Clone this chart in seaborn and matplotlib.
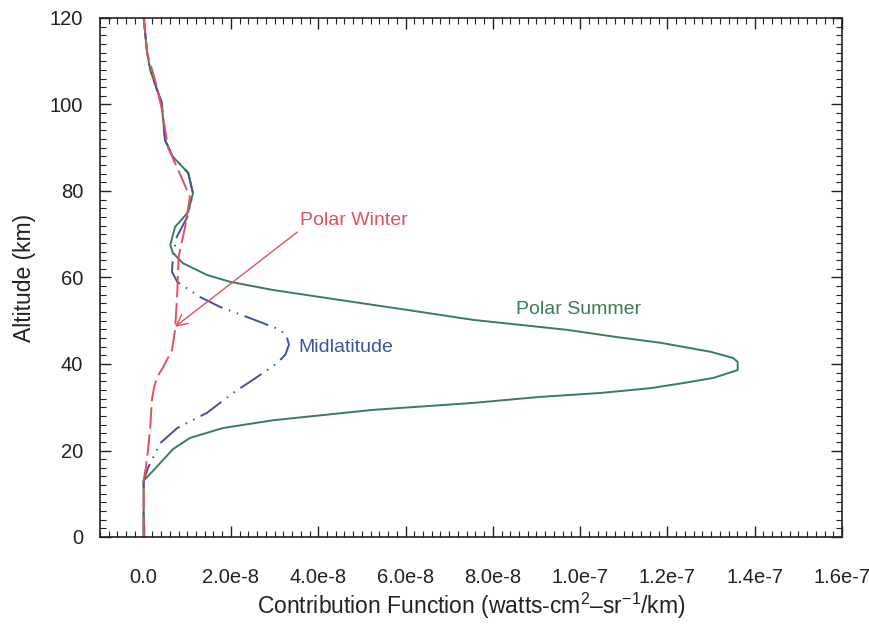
import matplotlib
matplotlib.use("Agg")
import matplotlib.pyplot as plt
import seaborn as sns
import pandas as pd
from matplotlib.ticker import MultipleLocator, FixedLocator, FixedFormatter

# ---- data ----
summer_alt = [0, 13, 16, 20.3, 22.9, 25.2, 27, 29.4, 31, 32.4, 33.3, 34.4, 35.6, 36.8,
              38.6, 40.5, 41.4, 42.8, 44.9, 46.2, 47.9, 50.2, 52.5, 54.8, 57.1, 59,
              60.6, 63.3, 65.7, 67.5, 71.7, 75.1, 79.5, 84.2, 87.9, 91.8, 97.1, 100.3,
              103.3, 108, 112, 120]
summer_cf = [0, 0, 2.8e-9, 6.7e-9, 1.06e-8, 1.82e-8, 2.97e-8, 5.26e-8, 7.55e-8, 9.09e-8,
             1.047e-7, 1.16e-7, 1.237e-7, 1.306e-7, 1.361e-7, 1.361e-7, 1.35e-7, 1.3e-7,
             1.185e-7, 1.086e-7, 9.7e-8, 7.55e-8, 6.04e-8, 4.5e-8, 2.97e-8, 1.98e-8,
             1.45e-8, 9e-9, 6.7e-9, 6.1e-9, 7.2e-9, 1.02e-8, 1.13e-8, 1.02e-8, 6.7e-9,
             4.9e-9, 4.4e-9, 4.2e-9, 3.1e-9, 1.5e-9, 8e-10, 0]

mid_alt = [0, 13, 16, 21.7, 25.2, 28.7, 33.3, 37, 40.2, 42.2, 44.5, 46.5, 47.9, 50.6,
           53.2, 55.5, 59, 61.3, 65, 69.4, 74, 79.5, 84.2, 87.9, 91.8, 97.1, 100.3,
           103.3, 108, 112, 120]
mid_cf = [0, 0, 1e-9, 3.8e-9, 7.7e-9, 1.45e-8, 2.05e-8, 2.6e-8, 3.06e-8, 3.25e-8,
          3.33e-8, 3.27e-8, 3.13e-8, 2.44e-8, 1.75e-8, 1.29e-8, 7.7e-9, 6.5e-9, 6.7e-9,
          7.6e-9, 1e-8, 1.13e-8, 1.02e-8, 6.7e-9, 4.9e-9, 4.4e-9, 4.2e-9, 3.1e-9, 1.5e-9,
          8e-10, 0]

winter_alt = [0, 13, 16, 20, 25.4, 31.7, 34.7, 37, 39.3, 43.2, 47.9, 56.4, 64.7, 71.7,
              78.6, 84, 90, 98.7, 105, 112, 120]
winter_cf = [0, 0, 5e-10, 1e-9, 1.5e-9, 1.9e-9, 2.4e-9, 3.1e-9, 4.5e-9, 6.5e-9, 7.2e-9,
             7.7e-9, 8e-9, 9.5e-9, 1.06e-8, 8.3e-9, 5.6e-9, 4.2e-9, 2.8e-9, 8e-10, 0]

xtick_values = [0.0, 2.0e-8, 4.0e-8, 6.0e-8, 8.0e-8, 1.0e-7, 1.2e-7, 1.4e-7, 1.6e-7]
xtick_labels = ["0.0", "2.0e-8", "4.0e-8", "6.0e-8", "8.0e-8", "1.0e-7", "1.2e-7", "1.4e-7", "1.6e-7"]
ytick_values = [0, 20, 40, 60, 80, 100, 120]

GREEN = "#3a7d55"
BLUE = "#4250a2"
RED = "#e2505e"
INK = "#222222"

sns.set_style("white")
plt.rcParams['font.family'] = ['Liberation Sans', 'DejaVu Sans']
plt.rcParams['mathtext.fontset'] = 'custom'
plt.rcParams['mathtext.rm'] = 'Liberation Sans'
plt.rcParams['mathtext.it'] = 'Liberation Sans'
plt.rcParams['mathtext.default'] = 'regular'

fig = plt.figure(figsize=(8.7, 6.24), dpi=100)
ax = fig.add_axes([100/870, 87/624, 742/870, 519/624])

summer = pd.DataFrame({"cf": summer_cf, "alt": summer_alt})
mid = pd.DataFrame({"cf": mid_cf, "alt": mid_alt})
winter = pd.DataFrame({"cf": winter_cf, "alt": winter_alt})

sns.lineplot(data=summer, x="cf", y="alt", sort=False, estimator=None, ax=ax,
             color=GREEN, lw=1.4)
sns.lineplot(data=mid, x="cf", y="alt", sort=False, estimator=None, ax=ax,
             color=BLUE, lw=1.4, linestyle=(0, (13, 3.5, 0.8, 3.5, 0.8, 3.5)))
sns.lineplot(data=winter, x="cf", y="alt", sort=False, estimator=None, ax=ax,
             color=RED, lw=1.4, linestyle=(0, (11, 3)))

ax.set_xlim(-1e-8, 1.6e-7)
ax.set_ylim(0, 120)
ax.xaxis.set_major_locator(FixedLocator(xtick_values))
ax.xaxis.set_major_formatter(FixedFormatter(xtick_labels))
ax.xaxis.set_minor_locator(MultipleLocator(2e-9))
ax.yaxis.set_major_locator(FixedLocator(ytick_values))
ax.yaxis.set_minor_locator(MultipleLocator(2))

ax.tick_params(which="both", direction="in", top=True, right=True, bottom=True,
               left=True, color=INK)
ax.tick_params(which="major", length=8, width=1)
ax.tick_params(which="minor", length=4, width=0.8)
ax.tick_params(axis="x", which="major", pad=22, labelsize=14.5, labelcolor=INK)
ax.tick_params(axis="y", which="major", pad=12, labelsize=14.5, labelcolor=INK)
for s in ax.spines.values():
    s.set_color(INK)
    s.set_linewidth(1.2)

ax.set_xlabel("Contribution Function (watts-cm$^{2}$\u2013sr$^{-1}$/km)", fontsize=16.5,
              color=INK, labelpad=3)
ax.set_ylabel("Altitude (km)", fontsize=16.5, color=INK, labelpad=10)

ax.annotate("", xy=(7.2e-9, 48.6), xytext=(3.52e-8, 70.5),
            arrowprops=dict(arrowstyle="->", color=RED, lw=1,
                            shrinkA=0, shrinkB=0, mutation_scale=20))
ax.text(3.59e-8, 73.1, "Polar Winter", color=RED, fontsize=14, va="center", ha="left")
ax.text(3.54e-8, 43.7, "Midlatitude", color=BLUE, fontsize=14, va="center", ha="left")
ax.text(8.54e-8, 52.5, "Polar Summer", color=GREEN, fontsize=14, va="center", ha="left")

fig.savefig("out.png", dpi=100)
